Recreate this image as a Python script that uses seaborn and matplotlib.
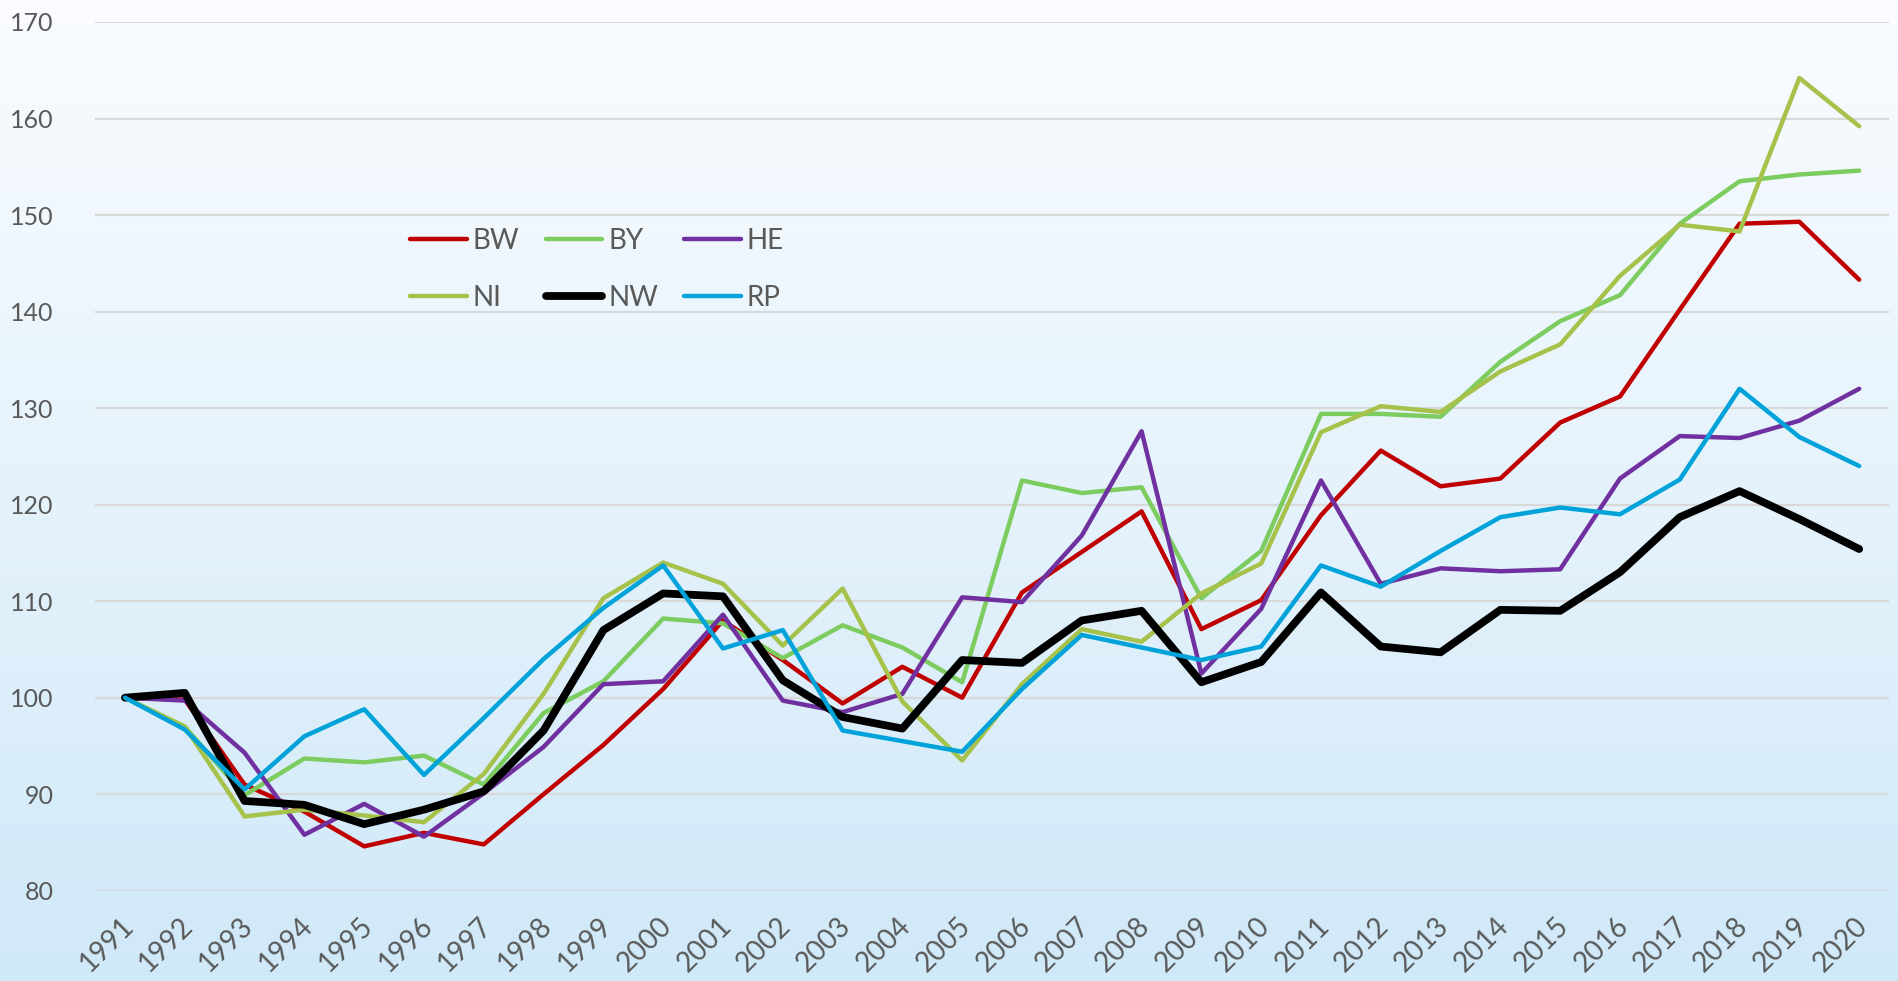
import numpy as np
import pandas as pd
import matplotlib
matplotlib.use("Agg")
import matplotlib.pyplot as plt
from matplotlib import transforms
import seaborn as sns

# Index values 1991 = 100, per Land
years = list(range(1991, 2021))
bw = [100, 99.8, 91.0, 88.2, 84.6, 86.0, 84.8, 90.0, 95.1, 100.9,
      108.0, 103.9, 99.4, 103.2, 100.0, 110.9, 115.1, 119.3, 107.1, 110.1,
      118.9, 125.6, 121.9, 122.7, 128.5, 131.2, 140.2, 149.1, 149.3, 143.3]
by = [100, 97.0, 89.9, 93.7, 93.3, 94.0, 91.0, 98.4, 101.7, 108.2,
      107.7, 104.1, 107.5, 105.2, 101.6, 122.5, 121.2, 121.8, 110.3, 115.2,
      129.4, 129.4, 129.1, 134.8, 139.0, 141.7, 149.1, 153.5, 154.2, 154.6]
he = [100, 99.7, 94.3, 85.8, 89.0, 85.6, 90.1, 94.9, 101.4, 101.7,
      108.6, 99.7, 98.5, 100.4, 110.4, 109.9, 116.8, 127.6, 102.5, 109.2,
      122.5, 111.8, 113.4, 113.1, 113.3, 122.7, 127.1, 126.9, 128.7, 132.0]
ni = [100, 97.0, 87.7, 88.4, 87.8, 87.1, 92.1, 100.4, 110.3, 114.0,
      111.8, 105.4, 111.3, 99.6, 93.5, 101.4, 107.1, 105.8, 110.8, 113.9,
      127.5, 130.2, 129.6, 133.8, 136.6, 143.7, 149.0, 148.3, 164.2, 159.2]
nw = [100, 100.5, 89.3, 88.9, 86.9, 88.4, 90.3, 96.6, 107.0, 110.8,
      110.5, 101.8, 98.0, 96.8, 103.9, 103.6, 108.0, 109.0, 101.6, 103.7,
      110.9, 105.3, 104.7, 109.1, 109.0, 113.0, 118.7, 121.4, 118.5, 115.4]
rp = [100, 96.7, 90.5, 96.0, 98.8, 92.0, 97.9, 104.0, 109.3, 113.7,
      105.1, 107.0, 96.6, 95.5, 94.4, 100.9, 106.5, 105.2, 103.9, 105.3,
      113.7, 111.5, 115.2, 118.7, 119.7, 119.0, 122.6, 132.0, 127.0, 124.0]

laender = ["BW", "BY", "HE", "NI", "NW", "RP"]
werte = [bw, by, he, ni, nw, rp]
farben = {"BW": "#C00000", "BY": "#7DCC5F", "HE": "#7030A0",
          "NI": "#A6C24A", "NW": "#000000", "RP": "#00A2DA"}
breiten = {"BW": 3.2, "BY": 3.2, "HE": 3.2, "NI": 3.2, "NW": 5.6, "RP": 3.2}

df = pd.concat([pd.DataFrame({"Jahr": years, "Index": w, "Land": l})
                for l, w in zip(laender, werte)], ignore_index=True)

sns.set_theme(style="white")
plt.rcParams["font.family"] = ["Lato", "DejaVu Sans"]

fig = plt.figure(figsize=(18.98, 9.81), dpi=100)

# Hintergrund: Verlauf von weiss nach hellblau
bg = fig.add_axes([0, 0, 1, 1], zorder=0)
oben = np.array([250, 252, 255]) / 255
unten = np.array([208, 233, 248]) / 255
t = np.linspace(0, 1, 256)[:, None]
verlauf = (oben * (1 - t) + unten * t)[:, None, :]
bg.imshow(verlauf, aspect="auto", extent=[0, 1, 0, 1])
bg.axis("off")

ax = fig.add_axes([0.0501, 0.0920, 0.9452, 0.8856], zorder=1)
ax.patch.set_alpha(0)

for land in laender:
    sub = df[df["Land"] == land]
    sns.lineplot(data=sub, x="Jahr", y="Index", color=farben[land],
                 linewidth=breiten[land], label=land, ax=ax,
                 solid_capstyle="round", solid_joinstyle="round")

ax.set_xlim(1990.5, 2020.5)
ax.set_ylim(80, 170)
ax.set_yticks(range(80, 171, 10))
ax.set_xticks(years)
ax.set_xticklabels([str(j) for j in years], rotation=45, ha="right",
                   va="top", rotation_mode="anchor")
ax.tick_params(axis="x", labelsize=20, colors="#595959", pad=16, length=0)
ax.tick_params(axis="y", labelsize=18, colors="#595959", pad=30, length=0)
# Jahreszahlen etwas nach links schieben
versatz = transforms.ScaledTranslation(-5 / 100, 0, fig.dpi_scale_trans)
for lab in ax.get_xticklabels():
    lab.set_transform(lab.get_transform() + versatz)
ax.grid(axis="y", color="#D9D9D9", linewidth=1.6)
ax.grid(axis="x", visible=False)
ax.set_axisbelow(True)
for s in ax.spines.values():
    s.set_visible(False)
ax.set_xlabel("")
ax.set_ylabel("")

# Legende: Zeilen BW BY HE / NI NW RP
h, l = ax.get_legend_handles_labels()
reihenfolge = [0, 3, 1, 4, 2, 5]
leg = ax.legend([h[i] for i in reihenfolge], [l[i] for i in reihenfolge],
                ncol=3, frameon=False, fontsize=20, handlelength=2.05,
                handletextpad=0.2, columnspacing=0.95, labelspacing=1.12,
                loc="upper left", borderpad=0, borderaxespad=0,
                bbox_to_anchor=(410 / 1898, 1 - 228 / 981),
                bbox_transform=fig.transFigure)
for txt in leg.get_texts():
    txt.set_color("#595959")

fig.savefig("out.png", dpi=100)
